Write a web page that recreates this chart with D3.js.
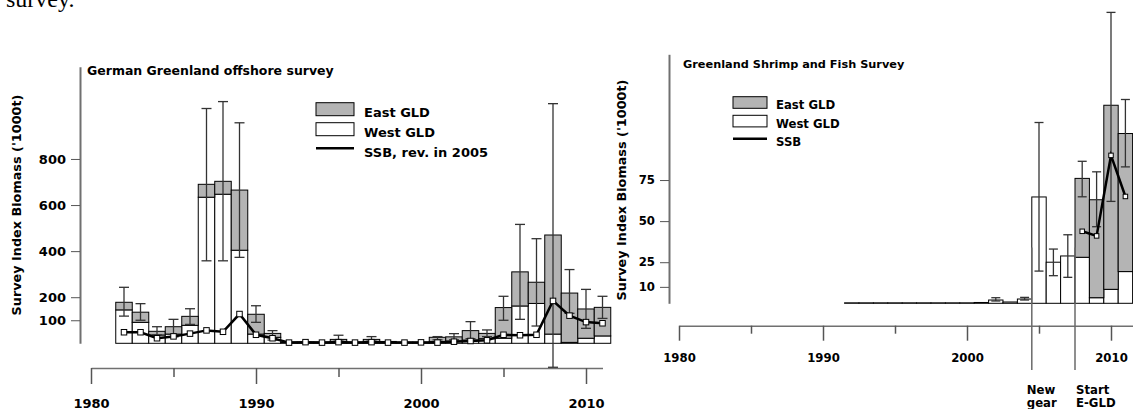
<!DOCTYPE html>
<html>
<head>
<meta charset="utf-8">
<script src="https://cdn.jsdelivr.net/npm/d3@7"></script>
<style>
  body { margin: 0; background: #ffffff; }
  svg { display: block; font-family: "DejaVu Sans", Verdana, sans-serif; font-weight: bold; }
</style>
</head>
<body>
<div id="survey_biomass_datavis"></div>
<script>
// ! Survey index biomass - German offshore survey (left) and Greenland Shrimp and Fish survey (right)

var gog_years  = [1982,1983,1984,1985,1986,1987,1988,1989,1990,1991,1992,1993,1994,1995,1996,1997,1998,1999,2000,2001,2002,2003,2004,2005,2006,2007,2008,2009,2010,2011];
var gog_west   = [145,91,36,40,78,634,647,404,40,26,3,3,3,8,3,8,4,3,3,8,10,14,20,22,162,173,40,4,22,32];
var gog_east   = [33,44,16,32,39,56,56,261,86,17,2,2,2,9,2,9,4,2,2,18,18,41,23,133,148,92,430,214,127,124];
var gog_ssb    = [48,48,22,30,42,56,50,127,37,22,3,5,3,5,3,5,3,3,4,3,7,10,13,37,35,37,184,120,92,87];
var gog_err_lo = [118,100,36,28,82,358,358,373,91,14,null,null,null,10,null,10,null,null,null,15,15,20,29,100,104,75,-104,130,65,108];
var gog_err_hi = [243,172,72,104,150,1019,1049,957,163,55,null,null,null,35,null,29,null,null,null,29,42,94,58,204,516,454,1040,320,234,204];
var gog_yticks = [100, 200, 400, 600, 800];

var gsf_years  = [1992,1993,1994,1995,1996,1997,1998,1999,2000,2001,2002,2003,2004,2005,2006,2007,2008,2009,2010,2011];
var gsf_west   = [0.3,0.3,0.3,0.3,0.3,0.3,0.3,0.3,0.3,0.5,2.0,0.8,2.6,64.7,25,28.8,28,3.4,8.5,19.3];
var gsf_east   = [0,0,0,0,0,0,0,0,0,0,0,0,0,0,0,0,48,59.6,112,84];
var gsf_ssb    = [null,null,null,null,null,null,null,null,null,null,null,null,null,null,null,null,43.8,41,90,65];
var gsf_err_lo = [null,null,null,null,null,null,null,null,null,null,1.4,null,2.0,19.6,16.8,15.8,64.8,46.6,62,83];
var gsf_err_hi = [null,null,null,null,null,null,null,null,null,null,3.4,null,3.6,110,33,41.7,86.4,80,177,124];
var gsf_yticks = [10, 25, 50, 75];

var year_ticks = [1980, 1985, 1990, 1995, 2000, 2005, 2010];
var legend_items = ["East GLD", "West GLD"];
var gsf_events = [{year: 2004.5, top: 34, label: ["New", "gear"]},
                  {year: 2007.5, top: 34, label: ["Start", "E-GLD"]}];

var svg_survey = d3.select("#survey_biomass_datavis")
  .append("svg")
  .attr("width", 1133)
  .attr("height", 409);

// leftover caption text from the page above the figure
svg_survey.append("text")
  .attr("x", 6)
  .attr("y", 7)
  .style("font-family", "'Liberation Serif', 'Times New Roman', serif")
  .style("font-weight", "normal")
  .style("font-size", "24px")
  .text("survey.");

function draw_panel(p) {
  var g = svg_survey.append("g");

  var x = d3.scaleLinear().domain(p.x_domain).range(p.x_range);
  var y = d3.scaleLinear().domain(p.y_domain).range(p.y_range);

  var rows = p.years.map(function(yr, i) {
    return {year: yr, west: p.west[i], east: p.east[i], ssb: p.ssb[i], lo: p.lo[i], hi: p.hi[i]};
  });

  // y axis
  var yAxis = g.append("g")
    .attr("transform", "translate(" + p.y_axis_x + ",0)")
    .call(d3.axisLeft(y).tickValues(p.yticks).tickSize(9).tickSizeOuter(0).tickPadding(5));
  yAxis.select(".domain").attr("stroke", "#707070").attr("stroke-width", 2);
  yAxis.selectAll(".tick line").attr("stroke", "#555");
  yAxis.selectAll("text")
    .style("font-size", p.tick_font)
    .style("font-weight", "bold")
    .style("font-family", "'DejaVu Sans', Verdana, sans-serif")
    .attr("fill", "#000");

  // x axis, separate line under the plot
  var xAxis = g.append("g")
    .attr("transform", "translate(0," + p.x_axis_y + ")")
    .call(d3.axisBottom(x).tickValues(year_ticks).tickSize(p.minor_tick).tickSizeOuter(0)
      .tickFormat(function(d) { return d % 10 === 0 ? d : ""; }));
  xAxis.select(".domain").attr("stroke", "#707070").attr("stroke-width", 1.5);
  xAxis.selectAll(".tick line")
    .attr("stroke", "#555")
    .attr("stroke-width", 1.5)
    .attr("y2", function(d) { return d % 10 === 0 ? p.major_tick : p.minor_tick; });
  xAxis.selectAll("text")
    .attr("y", p.x_label_dy)
    .attr("dy", 0)
    .style("font-size", p.tick_font)
    .style("font-weight", "bold")
    .style("font-family", "'DejaVu Sans', Verdana, sans-serif")
    .attr("fill", "#000");

  // West GLD part of the bars
  g.selectAll(".bar_west")
    .data(rows)
    .enter()
    .append("rect")
    .attr("class", "bar_west")
    .attr("x", function(d) { return x(d.year - 0.5); })
    .attr("width", function(d) { return x(d.year + 0.5) - x(d.year - 0.5); })
    .attr("y", function(d) { return y(d.west); })
    .attr("height", function(d) { return y(0) - y(d.west); })
    .attr("fill", "#ffffff")
    .attr("stroke", "#000")
    .attr("stroke-width", 1);

  // East GLD stacked on top
  g.selectAll(".bar_east")
    .data(rows.filter(function(d) { return d.east > 0; }))
    .enter()
    .append("rect")
    .attr("class", "bar_east")
    .attr("x", function(d) { return x(d.year - 0.5); })
    .attr("width", function(d) { return x(d.year + 0.5) - x(d.year - 0.5); })
    .attr("y", function(d) { return y(d.west + d.east); })
    .attr("height", function(d) { return y(d.west) - y(d.west + d.east); })
    .attr("fill", "#b4b4b4")
    .attr("stroke", "#000")
    .attr("stroke-width", 1);

  // error bars
  var errs = rows.filter(function(d) { return d.lo !== null; });
  var eg = g.append("g").attr("stroke", "#333").attr("stroke-width", 1.3);
  eg.selectAll(".err_v")
    .data(errs)
    .enter()
    .append("line")
    .attr("x1", function(d) { return x(d.year); })
    .attr("x2", function(d) { return x(d.year); })
    .attr("y1", function(d) { return y(d.lo); })
    .attr("y2", function(d) { return y(d.hi); });
  ["lo", "hi"].forEach(function(k) {
    eg.selectAll(".err_" + k)
      .data(errs)
      .enter()
      .append("line")
      .attr("x1", function(d) { return x(d.year) - p.cap / 2; })
      .attr("x2", function(d) { return x(d.year) + p.cap / 2; })
      .attr("y1", function(d) { return y(d[k]); })
      .attr("y2", function(d) { return y(d[k]); });
  });

  // SSB line with open square markers
  var ssb_rows = rows.filter(function(d) { return d.ssb !== null; });
  g.append("path")
    .datum(ssb_rows)
    .attr("fill", "none")
    .attr("stroke", "#000")
    .attr("stroke-width", 2.5)
    .attr("d", d3.line()
      .x(function(d) { return x(d.year); })
      .y(function(d) { return y(d.ssb); }));

  g.selectAll(".ssb_pt")
    .data(ssb_rows)
    .enter()
    .append("rect")
    .attr("x", function(d) { return x(d.year) - p.marker / 2; })
    .attr("y", function(d) { return y(d.ssb) - p.marker / 2; })
    .attr("width", p.marker)
    .attr("height", p.marker)
    .attr("fill", "#fff")
    .attr("stroke", "#000")
    .attr("stroke-width", 1);

  // title
  g.append("text")
    .attr("x", p.title_x)
    .attr("y", p.title_y)
    .style("font-size", p.title_font)
    .text(p.title);

  // y axis title
  g.append("text")
    .attr("transform", "translate(" + p.ytitle_x + "," + p.ytitle_y + ") rotate(-90)")
    .attr("text-anchor", "middle")
    .attr("dominant-baseline", "central")
    .style("font-size", p.ytitle_font)
    .text("Survey Index Biomass ('1000t)");

  // legend
  var lg = g.append("g").attr("transform", "translate(" + p.legend_x + "," + p.legend_y + ")");
  lg.selectAll("rect")
    .data(legend_items)
    .enter()
    .append("rect")
    .attr("x", 0)
    .attr("y", function(d, i) { return i * p.legend_step; })
    .attr("width", p.legend_w)
    .attr("height", p.legend_h)
    .attr("fill", function(d, i) { return i === 0 ? "#b4b4b4" : "#fff"; })
    .attr("stroke", "#000")
    .attr("stroke-width", 1);
  lg.append("line")
    .attr("x1", 0)
    .attr("x2", p.legend_w)
    .attr("y1", 2 * p.legend_step + p.legend_h / 2 - 1)
    .attr("y2", 2 * p.legend_step + p.legend_h / 2 - 1)
    .attr("stroke", "#000")
    .attr("stroke-width", 2.5);
  lg.selectAll("text")
    .data(legend_items.concat([p.ssb_label]))
    .enter()
    .append("text")
    .attr("x", p.legend_w + p.legend_gap)
    .attr("y", function(d, i) { return i * p.legend_step + p.legend_h + 1; })
    .style("font-size", p.legend_font)
    .text(function(d) { return d; });

  return {g: g, x: x, y: y};
}

draw_panel({
  years: gog_years, west: gog_west, east: gog_east, ssb: gog_ssb, lo: gog_err_lo, hi: gog_err_hi,
  yticks: gog_yticks,
  x_domain: [1980, 2011], x_range: [91, 602.5],
  y_domain: [0, 1200], y_range: [343.3, 66.8],
  y_axis_x: 80, x_axis_y: 368, minor_tick: 9, major_tick: 16, x_label_dy: 40,
  tick_font: "13px", cap: 10, marker: 5.5,
  title: "German Greenland offshore survey", title_x: 87, title_y: 75, title_font: "12.5px",
  ytitle_x: 16.5, ytitle_y: 205, ytitle_font: "12.8px",
  legend_x: 316, legend_y: 102.7, legend_step: 20, legend_w: 38, legend_h: 13, legend_gap: 10,
  legend_font: "13px", ssb_label: "SSB, rev. in 2005"
});

var gsf = draw_panel({
  years: gsf_years, west: gsf_west, east: gsf_east, ssb: gsf_ssb, lo: gsf_err_lo, hi: gsf_err_hi,
  yticks: gsf_yticks,
  x_domain: [1980, 2012], x_range: [679, 1139.8],
  y_domain: [0, 151.5], y_range: [303.3, 54.3],
  y_axis_x: 669, x_axis_y: 325.7, minor_tick: 8, major_tick: 15, x_label_dy: 36,
  tick_font: "11.7px", cap: 9, marker: 4.5,
  title: "Greenland Shrimp and Fish Survey", title_x: 683, title_y: 68, title_font: "11.3px",
  ytitle_x: 621, ytitle_y: 190, ytitle_font: "12.8px",
  legend_x: 733, legend_y: 96.7, legend_step: 18.6, legend_w: 34, legend_h: 11.6, legend_gap: 9,
  legend_font: "11.7px", ssb_label: "SSB"
});

// gear change and start of East Greenland coverage
gsf.g.selectAll(".event_line")
  .data(gsf_events)
  .enter()
  .append("line")
  .attr("x1", function(d) { return gsf.x(d.year); })
  .attr("x2", function(d) { return gsf.x(d.year); })
  .attr("y1", function(d) { return gsf.y(d.top); })
  .attr("y2", 370)
  .attr("stroke", "#6a6a6a")
  .attr("stroke-width", 1.5);

gsf.g.selectAll(".event_label")
  .data(gsf_events)
  .enter()
  .append("text")
  .attr("x", function(d) { return gsf.x(d.year) - 5; })
  .attr("y", 394)
  .style("font-size", "11.7px")
  .selectAll("tspan")
  .data(function(d) { return d.label.map(function(t) { return {t: t, x: gsf.x(d.year) + (d.year < 2006 ? -5 : 1)}; }); })
  .enter()
  .append("tspan")
  .attr("x", function(d) { return d.x; })
  .attr("dy", function(d, i) { return i === 0 ? 0 : 13; })
  .text(function(d) { return d.t; });
</script>
</body>
</html>
